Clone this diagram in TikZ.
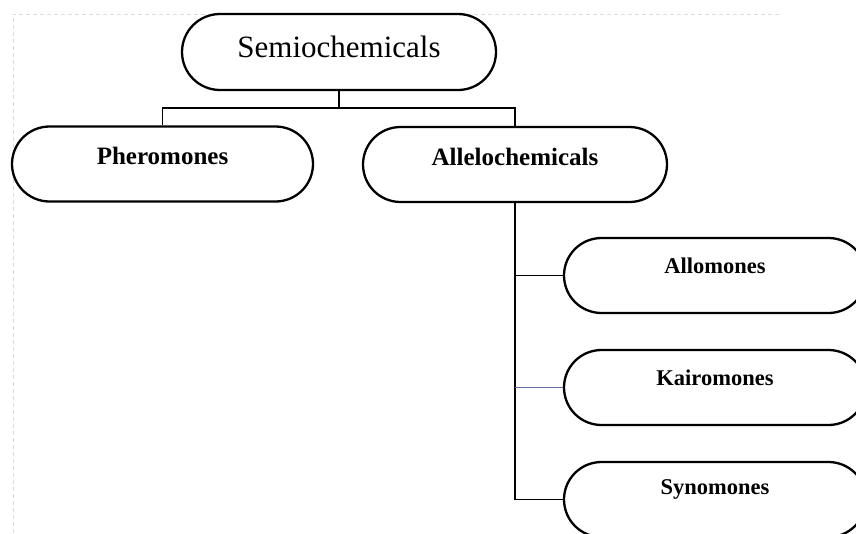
\documentclass[tikz,border=0pt]{standalone}
\usepackage{fontspec}
\setmainfont{Liberation Serif}
\usetikzlibrary{shapes.misc}
\definecolor{kairoline}{RGB}{104,104,166}
\definecolor{frameline}{RGB}{220,220,220}
\begin{document}
\begin{tikzpicture}[x=1pt,y=-1pt,
  pill/.style={rounded rectangle, draw=black, line width=2.3pt, fill=white, inner sep=0pt},
  conn/.style={draw=black, line width=1.7pt},
  frame/.style={draw=frameline, line width=0.8pt, dash pattern=on 4pt off 3pt}]
\useasboundingbox (0,0) rectangle (856,533);
\clip (0,0) rectangle (856,533);
\draw[frame] (13,533) -- (13,14) -- (780,14);
% boxes
\node[pill, minimum width=314pt, minimum height=76pt,
  label={[yshift=5pt, font=\fontsize{31}{31}\selectfont]center:Semiochemicals}] (semio) at (339,52) {};
\node[pill, minimum width=301pt, minimum height=75pt,
  label={[yshift=8pt, font=\fontsize{25}{25}\selectfont\bfseries]center:Pheromones}] (pher) at (162.5,164) {};
\node[pill, minimum width=304pt, minimum height=75pt,
  label={[yshift=8pt, font=\fontsize{25}{25}\selectfont\bfseries]center:Allelochemicals}] (allelo) at (515,164.5) {};
\node[pill, minimum width=302pt, minimum height=75pt,
  label={[yshift=10pt, font=\fontsize{22.5}{22.5}\selectfont\bfseries]center:Allomones}] (allo) at (715,275.5) {};
\node[pill, minimum width=302pt, minimum height=75pt,
  label={[yshift=10pt, font=\fontsize{22.5}{22.5}\selectfont\bfseries]center:Kairomones}] (kairo) at (715,387.5) {};
\node[pill, minimum width=302pt, minimum height=75pt,
  label={[yshift=10pt, font=\fontsize{22.5}{22.5}\selectfont\bfseries]center:Synomones}] (syno) at (715,499.5) {};
% connectors
\coordinate (bus) at (339,108);
\draw[conn] (semio.south) -- (bus);
\draw[conn] (pher.north) |- (bus) -| (allelo.north);
\draw[conn] (allelo.south) |- (syno.west);
\draw[conn] (allelo.south |- allo.west) -- (allo.west);
\draw[conn, draw=kairoline, line width=1.3pt] (allelo.south |- kairo.west) -- (kairo.west);
\end{tikzpicture}
\end{document}
